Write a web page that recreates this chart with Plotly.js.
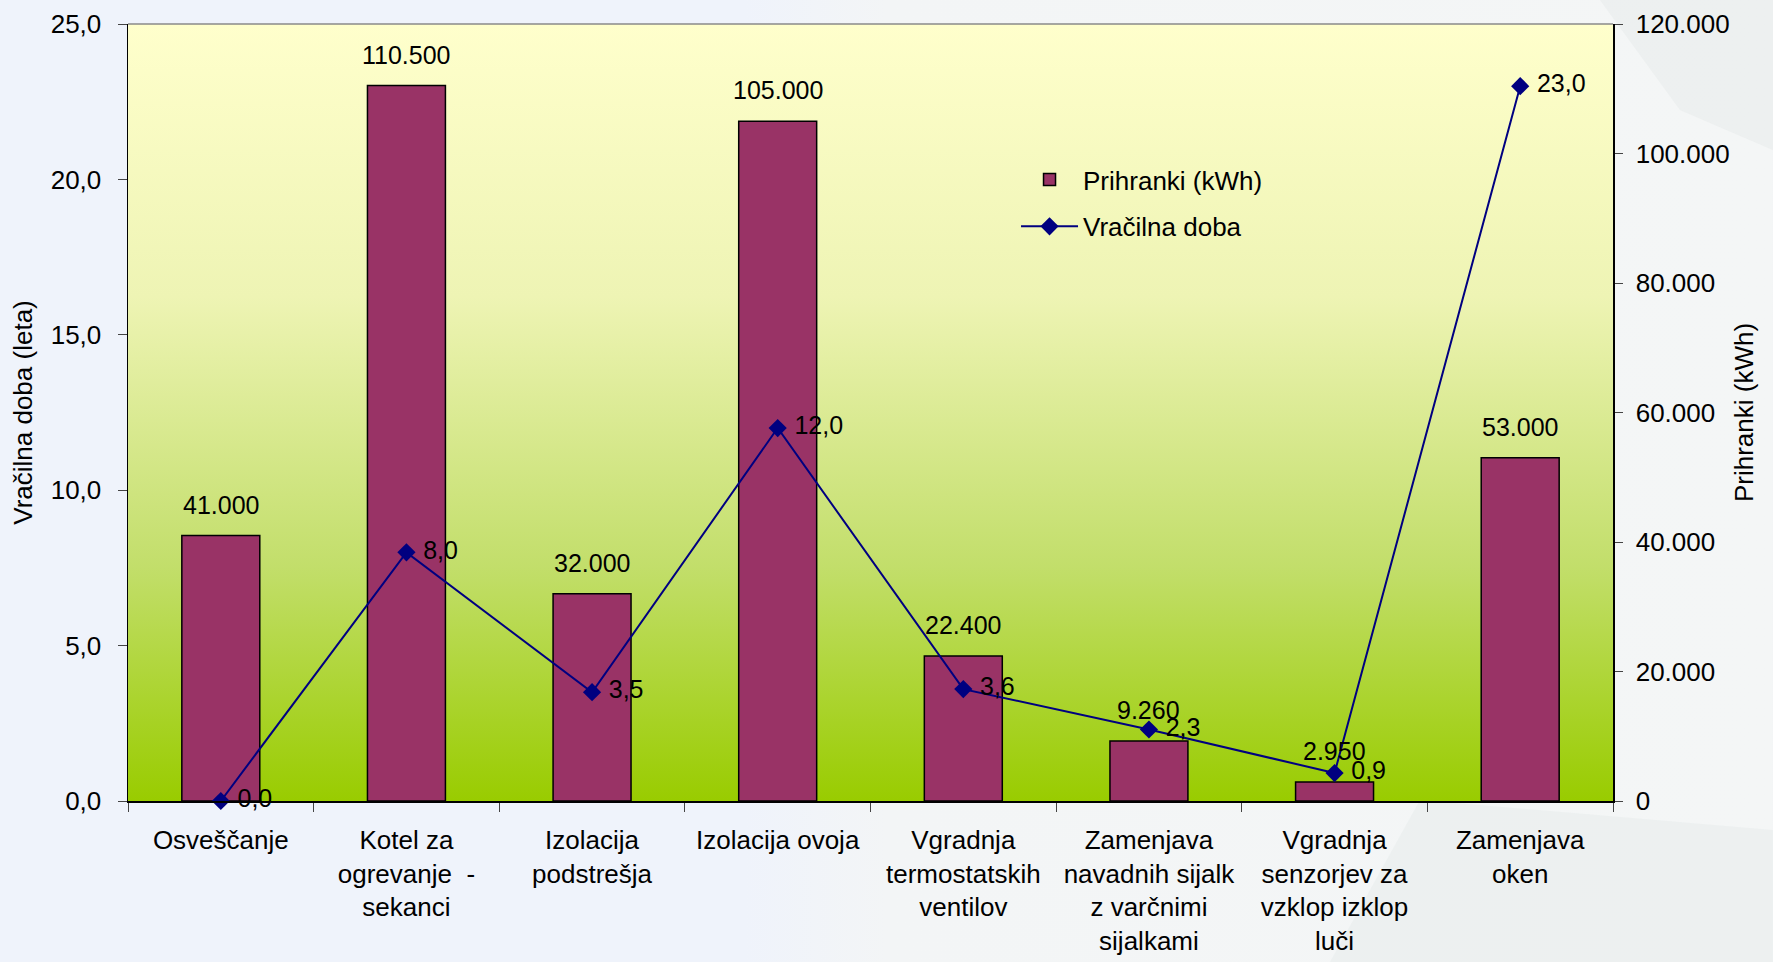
<!DOCTYPE html>
<html>
<head>
<meta charset="utf-8">
<script src="https://cdn.plot.ly/plotly-3.0.1.min.js"></script>
<style>
  html, body { margin: 0; padding: 0; background: #eff3fb; }
  #chart { width: 1773px; height: 962px; }
</style>
</head>
<body>
<div id="chart"></div>
<script>
// ---- data ----
const categories = [
  "Osveščanje",
  "Kotel za<br>ogrevanje  -<br>sekanci",
  "Izolacija<br>podstrešja",
  "Izolacija ovoja",
  "Vgradnja<br>termostatskih<br>ventilov",
  "Zamenjava<br>navadnih sijalk<br>z varčnimi<br>sijalkami",
  "Vgradnja<br>senzorjev za<br>vzklop izklop<br>luči",
  "Zamenjava<br>oken"
];
const prihranki = [41000, 110500, 32000, 105000, 22400, 9260, 2950, 53000];
const vracilnaDoba = [0.0, 8.0, 3.5, 12.0, 3.6, 2.3, 0.9, 23.0];
const seriesNames = ["Prihranki (kWh)", "Vračilna doba"];
const axisTitles = ["Vračilna doba (leta)", "Prihranki (kWh)"];

// ---- backgrounds (SVG gradients as data URIs) ----
const plotBg = 'data:image/svg+xml;charset=utf-8,' + encodeURIComponent(
  '<svg xmlns="http://www.w3.org/2000/svg" width="100" height="100" preserveAspectRatio="none">' +
  '<defs><linearGradient id="g" x1="0" y1="0" x2="0" y2="1">' +
  '<stop offset="0" stop-color="#ffffcc"/>' +
  '<stop offset="0.35" stop-color="#eef4b4"/>' +
  '<stop offset="0.7" stop-color="#c2de6a"/>' +
  '<stop offset="1" stop-color="#99cc00"/>' +
  '</linearGradient></defs><rect width="100" height="100" fill="url(#g)"/></svg>');

const pageBg = 'data:image/svg+xml;charset=utf-8,' + encodeURIComponent(
  '<svg xmlns="http://www.w3.org/2000/svg" width="1773" height="962" preserveAspectRatio="none">' +
  '<defs><linearGradient id="h" x1="0" y1="0" x2="1" y2="0">' +
  '<stop offset="0" stop-color="#eff3fb"/>' +
  '<stop offset="0.42" stop-color="#eff3fb"/>' +
  '<stop offset="0.5" stop-color="#f3f5f6"/>' +
  '<stop offset="1" stop-color="#f4f6f6"/>' +
  '</linearGradient></defs>' +
  '<rect width="1773" height="962" fill="url(#h)"/>' +
  '<polygon points="1330,962 1420,800 1773,830 1773,962" fill="#e8ecec" opacity="0.6"/>' +
  '<polygon points="1600,0 1773,0 1773,150 1680,110" fill="#e6eaea" opacity="0.5"/>' +
  '</svg>');

const FONT = 'Liberation Sans, Arial, sans-serif';

function fmtThousands(v) {
  return String(v).replace(/\B(?=(\d{3})+(?!\d))/g, '.');
}

const traces = [
  {
    type: 'bar',
    name: seriesNames[0],
    legendgroup: 'a',
    x: categories,
    y: prihranki,
    yaxis: 'y',
    width: 0.42,
    marker: { color: '#993366', line: { color: '#000000', width: 1.5 } },
    hoverinfo: 'x+y'
  },
  {
    type: 'scatter',
    mode: 'lines+markers+text',
    name: seriesNames[1],
    legendgroup: 'b',
    x: categories,
    y: vracilnaDoba,
    yaxis: 'y2',
    line: { color: '#000080', width: 2 },
    marker: { symbol: 'diamond', size: 14, color: '#000080' },
    texttemplate: '\u00a0%{y:.1f}',
    textposition: 'middle right',
    textfont: { family: FONT, size: 25, color: '#000000' },
    cliponaxis: false
  }
];

// bar value labels placed above each bar, from the data arrays
const barLabels = categories.map((c, i) => ({
  x: c, y: prihranki[i], xref: 'x', yref: 'y',
  text: fmtThousands(prihranki[i]),
  showarrow: false, yanchor: 'bottom', yshift: 15,
  font: { family: FONT, size: 25, color: '#000000' }
}));

const layout = {
  width: 1773,
  height: 962,
  margin: { l: 128, r: 160, t: 24, b: 161, pad: 0 },
  paper_bgcolor: '#eff3fb',
  plot_bgcolor: 'rgba(0,0,0,0)',
  separators: ',.',
  font: { family: FONT, size: 26, color: '#000000' },
  showlegend: true,
  legend: {
    x: 0.598, y: 0.83, xanchor: 'left', yanchor: 'top',
    bgcolor: 'rgba(0,0,0,0)',
    font: { family: FONT, size: 26, color: '#000000' },
    itemwidth: 57,
    traceorder: 'grouped',
    tracegroupgap: 10
  },
  xaxis: {
    type: 'category',
    showline: true, linecolor: '#000000', linewidth: 1.5,
    ticks: 'outside', tickson: 'boundaries', ticklen: 9, tickcolor: '#444444',
    ticklabelstandoff: 15,
    tickfont: { family: FONT, size: 26, color: '#000000' },
    showgrid: false, zeroline: false, mirror: false
  },
  // primary y axis: kWh on the right (bars drawn underneath the line)
  yaxis: {
    side: 'right',
    range: [0, 120000],
    dtick: 20000,
    tickformat: ',d',
    showline: true, linecolor: '#000000', linewidth: 1.5,
    ticks: 'outside', ticklen: 8, tickcolor: '#444444',
    ticklabelstandoff: 8,
    showgrid: false, zeroline: false,
    tickfont: { family: FONT, size: 26, color: '#000000' },
    title: { text: axisTitles[1], font: { family: FONT, size: 26 }, standoff: 6 }
  },
  // secondary y axis: years on the left
  yaxis2: {
    overlaying: 'y',
    side: 'left',
    range: [0, 25],
    dtick: 5,
    tickformat: '.1f',
    showline: true, linecolor: '#000000', linewidth: 1.5,
    ticks: 'outside', ticklen: 9, tickcolor: '#444444',
    ticklabelstandoff: 11,
    showgrid: false, zeroline: false,
    tickfont: { family: FONT, size: 26, color: '#000000' },
    title: { text: axisTitles[0], font: { family: FONT, size: 26 }, standoff: 10 }
  },
  annotations: barLabels,
  shapes: [
    { type: 'line', xref: 'paper', yref: 'paper', x0: 0, x1: 1, y0: 1, y1: 1,
      line: { color: '#8a8a8a', width: 1.5 } }
  ],
  images: [
    { source: pageBg, xref: 'paper', yref: 'paper', x: -0.0862, y: 1.0309,
      sizex: 1.1939, sizey: 1.2381, sizing: 'stretch', layer: 'below',
      xanchor: 'left', yanchor: 'top' },
    { source: plotBg, xref: 'paper', yref: 'paper', x: 0, y: 1,
      sizex: 1, sizey: 1, sizing: 'stretch', layer: 'below',
      xanchor: 'left', yanchor: 'top' }
  ]
};

Plotly.newPlot('chart', traces, layout, { displayModeBar: false, staticPlot: true });
</script>
</body>
</html>
